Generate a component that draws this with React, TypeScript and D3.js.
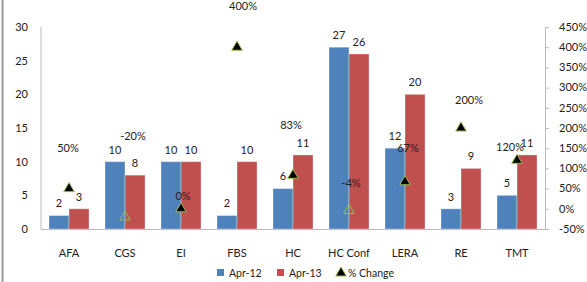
import React from 'react';
import * as d3 from 'd3';

const categories = ['AFA', 'CGS', 'EI', 'FBS', 'HC', 'HC Conf', 'LERA', 'RE', 'TMT'];
const apr12 = [2, 10, 10, 2, 6, 27, 12, 3, 5];
const apr13 = [3, 8, 10, 10, 11, 26, 20, 9, 11];
const pctChange = [50, -20, 0, 400, 83, -4, 67, 200, 120];
const leftTicks = [0, 5, 10, 15, 20, 25, 30];
const rightTicks = [-50, 0, 50, 100, 150, 200, 250, 300, 350, 400, 450];
const seriesNames = ['Apr-12', 'Apr-13'];

// % labels were dragged around by hand in the original, so nudge each one
const pctLabelDx = [-1, 8, 2, 6, -2, 2, 3, 8, -7];
const pctLabelDy = [-40, -81, -13, -41, -50, -27, -34, -28, -13];

const W = 587;
const H = 282;
const margin = { top: 27, right: 42, bottom: 53, left: 41 };
const blue = '#4F81BD';
const red = '#C0504D';
const green = '#9BBB59';
const font = 'Lato, "Open Sans", sans-serif';

const App: React.FC = () => {
  const x = d3.scaleBand<string>()
    .domain(categories)
    .range([margin.left, W - margin.right]);

  const x1 = d3.scaleBand<string>()
    .domain(seriesNames)
    .range([0, 40]);

  const y = d3.scaleLinear()
    .domain([0, 30])
    .range([H - margin.bottom, margin.top]);

  const y2 = d3.scaleLinear()
    .domain([-50, 450])
    .range([H - margin.bottom, margin.top]);

  const tri = d3.symbol().type(d3.symbolTriangle).size(48);
  const groupOffset = (x.bandwidth() - 40) / 2;
  const xLeft = margin.left;
  const xRight = W - margin.right;
  const yBase = H - margin.bottom;

  return (
    <svg width={W} height={H} style={{ position: 'absolute', left: 0, top: 0 }} fontFamily={font} fontSize={11}>
      <rect width={W} height={H} fill="#fff" />
      <line x1={2.5} x2={2.5} y1={0} y2={H} stroke="#999" strokeWidth={2} />

      {/* axes */}
      <line x1={xLeft} x2={xLeft} y1={margin.top} y2={yBase} stroke="#bbb" />
      <line x1={xLeft} x2={xRight} y1={yBase + 0.5} y2={yBase + 0.5} stroke="#bbb" />
      <line x1={xRight + 0.5} x2={xRight + 0.5} y1={margin.top} y2={yBase} stroke="#bbb" />

      {leftTicks.map(t => (
        <text key={t} x={28} y={y(t)} dy="0.35em" textAnchor="end" fill="#222">{t}</text>
      ))}
      {rightTicks.map(t => (
        <g key={t}>
          <line x1={xRight} x2={xRight + 4} y1={y2(t) + 0.5} y2={y2(t) + 0.5} stroke="#bbb" />
          <text x={559} y={y2(t)} dy="0.35em" fill="#222">{t}%</text>
        </g>
      ))}
      {categories.map(c => (
        <text key={c} x={x(c)! + x.bandwidth() / 2} y={yBase + 24} dy="0.35em" textAnchor="middle" fill="#222">{c}</text>
      ))}

      {/* bars */}
      {categories.map((c, i) => {
        const vals = [apr12[i], apr13[i]];
        return (
          <g key={c}>
            {vals.map((v, j) => {
              const bx = x(c)! + groupOffset + x1(seriesNames[j])!;
              return (
                <g key={j}>
                  <rect x={bx} y={y(v)} width={x1.bandwidth()} height={yBase - y(v)}
                    fill={j === 0 ? blue : red} stroke="#fff" strokeOpacity={0.35} strokeWidth={1} />
                  <text x={bx + x1.bandwidth() / 2} y={y(v) - 12} dy="0.35em" textAnchor="middle" fill="#222">{v}</text>
                </g>
              );
            })}
          </g>
        );
      })}

      {/* % change markers */}
      {categories.map((c, i) => {
        const cx = x(c)! + x.bandwidth() / 2;
        const cy = y2(pctChange[i]);
        const neg = pctChange[i] < 0;
        return (
          <g key={c}>
            <path d={tri()!} transform={`translate(${cx},${cy})`}
              fill={neg ? 'none' : '#000'} stroke={green} strokeWidth={1} />
            <text x={cx + pctLabelDx[i]} y={cy + pctLabelDy[i]} dy="0.35em" textAnchor="middle" fill="#222">
              {pctChange[i]}%
            </text>
          </g>
        );
      })}

      {/* legend */}
      <rect x={217} y={269} width={7} height={7} fill={blue} />
      <text x={229} y={273} dy="0.35em" fontSize={10.5} fill="#222">Apr-12</text>
      <rect x={277} y={269} width={7} height={7} fill={red} />
      <text x={289} y={273} dy="0.35em" fontSize={10.5} fill="#222">Apr-13</text>
      <path d={tri()!} transform="translate(341,273)" fill="#000" stroke={green} />
      <text x={348} y={273} dy="0.35em" fontSize={10.5} fill="#222">% Change</text>
    </svg>
  );
};

export default App;
